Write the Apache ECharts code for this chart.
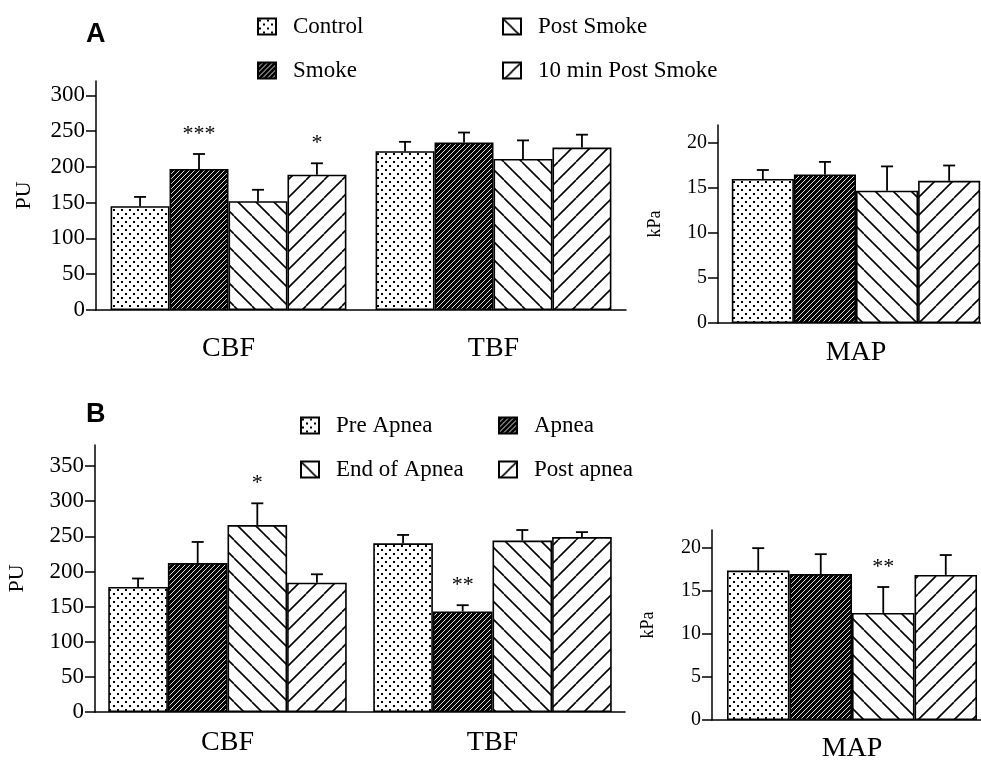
<!DOCTYPE html>
<html>
<head>
<meta charset="utf-8">
<script src="https://cdn.jsdelivr.net/npm/echarts@6/dist/echarts.min.js"></script>
<style>
  html, body { margin: 0; padding: 0; background: #fff; overflow: hidden; }
  #chart { width: 981px; height: 762px; }
</style>
</head>
<body>
<div id="chart"></div>
<script>
// categories
const flowGroups = ['CBF', 'TBF'];
const mapGroups = ['MAP'];
const smokeNames = ['Control', 'Smoke', 'Post Smoke', '10 min Post Smoke'];
const apneaNames = ['Pre Apnea', 'Apnea', 'End of Apnea', 'Post apnea'];

// panel A: flow in PU, one row per condition -> [CBF, TBF]
const smokeFlow = [[145, 222], [197, 234], [152, 211], [189, 227]];
const smokeFlowSem = [[13, 13], [21, 14], [16, 26], [16, 18]];
const smokeFlowSig = [['', ''], ['***', ''], ['', ''], ['*', '']];
// panel A: MAP in kPa
const smokeMap = [16.0, 16.5, 14.7, 15.8];
const smokeMapSem = [1.0, 1.4, 2.7, 1.7];
const smokeMapSig = ['', '', '', ''];

// panel B
const apneaFlow = [[178, 240], [212, 143], [266, 244], [184, 249]];
const apneaFlowSem = [[12, 12], [30, 9], [31, 15], [12, 7]];
const apneaFlowSig = [['', ''], ['', '**'], ['*', ''], ['', '']];
const apneaMap = [17.3, 16.9, 12.4, 16.8];
const apneaMapSem = [2.6, 2.3, 3.0, 2.3];
const apneaMapSig = ['', '', '**', ''];

// tick labels
const flowTicksA = [0, 50, 100, 150, 200, 250, 300];
const flowTicksB = [0, 50, 100, 150, 200, 250, 300, 350];
const mapTicks = [0, 5, 10, 15, 20];

const serif = '"Liberation Serif", "Times New Roman", serif';

// fill patterns for the four conditions
function dots() {
    const c = document.createElement('canvas');
    c.width = 8; c.height = 8;
    const g = c.getContext('2d');
    g.fillStyle = '#fff'; g.fillRect(0, 0, 8, 8);
    g.fillStyle = '#000';
    g.fillRect(1, 1, 2, 2);
    g.fillRect(5, 5, 2, 2);
    return {image: c, repeat: 'repeat'};
}
function darkStripes() {
    const c = document.createElement('canvas');
    c.width = 5; c.height = 5;
    const g = c.getContext('2d');
    g.fillStyle = '#000'; g.fillRect(0, 0, 5, 5);
    g.fillStyle = '#ddd';
    for (let i = 0; i < 5; i++) g.fillRect(i, 4 - i, 1, 1);
    return {image: c, repeat: 'repeat'};
}
function hatch(back) {
    const p = 18;
    const c = document.createElement('canvas');
    c.width = p; c.height = p;
    const g = c.getContext('2d');
    g.fillStyle = '#fff'; g.fillRect(0, 0, p, p);
    g.strokeStyle = '#000'; g.lineWidth = 1.6;
    for (let k = -1; k <= 1; k++) {
        g.beginPath();
        if (back) { g.moveTo(k * p, 0); g.lineTo(k * p + p, p); }
        else { g.moveTo(k * p, p); g.lineTo(k * p + p, 0); }
        g.stroke();
    }
    return {image: c, repeat: 'repeat'};
}
const fills = [dots(), darkStripes(), hatch(true), hatch(false)];

function panelSeries(gi, names, means, sems, sigs, gap) {
    let list = [];
    names.forEach(function (n, k) {
        list.push({
            name: n,
            type: 'bar',
            xAxisIndex: gi,
            yAxisIndex: gi,
            barGap: '0%',
            barCategoryGap: (gap * 100) + '%',
            itemStyle: {color: fills[k], borderColor: '#000', borderWidth: 1.6},
            data: means[k]
        });
    });
    // error bars + significance stars
    let items = [], stars = [];
    means.forEach(function (row, k) {
        row.forEach(function (m, c) {
            items.push([c, k, m, sems[k][c]]);
            stars.push(sigs[k][c]);
        });
    });
    list.push({
        type: 'custom',
        xAxisIndex: gi,
        yAxisIndex: gi,
        silent: true,
        z: 5,
        encode: {x: 0, y: 2},
        data: items,
        renderItem: function (params, api) {
            const c = api.value(0), k = api.value(1), m = api.value(2), s = api.value(3);
            const p0 = api.coord([c, m]);
            const p1 = api.coord([c, m + s]);
            const bw = api.size([1, 0])[0] * (1 - gap) / 4;
            const x = p0[0] + (k - 1.5) * bw;
            const line = {stroke: '#000', lineWidth: 1.8};
            let ch = [
                {type: 'line', shape: {x1: x, y1: p0[1], x2: x, y2: p1[1]}, style: line},
                {type: 'line', shape: {x1: x - 6, y1: p1[1], x2: x + 6, y2: p1[1]}, style: line}
            ];
            const st = stars[params.dataIndex];
            if (st) {
                ch.push({type: 'text', style: {text: st, x: x, y: p1[1] - 20, align: 'center',
                    verticalAlign: 'middle', fontSize: 22, fontFamily: serif, fill: '#000'}});
            }
            return {type: 'group', children: ch};
        }
    });
    return list;
}

function yAx(gi, max, ticks, name, gap, fs) {
    return {
        gridIndex: gi, type: 'value', min: 0, max: max,
        name: name, nameLocation: 'middle', nameGap: gap, nameRotate: 90,
        nameTextStyle: {fontFamily: serif, fontSize: name === 'PU' ? 22 : 18, color: '#000'},
        axisLine: {show: true, lineStyle: {color: '#000', width: 1.5}},
        axisTick: {show: true, length: 10, customValues: ticks, lineStyle: {color: '#000', width: 1.5}},
        axisLabel: {customValues: ticks, fontFamily: serif, fontSize: fs, color: '#000', margin: 11},
        splitLine: {show: false}
    };
}
function xAx(gi, cats, margin) {
    return {
        gridIndex: gi, type: 'category', data: cats,
        axisLine: {lineStyle: {color: '#000', width: 1.5}},
        axisTick: {show: false},
        axisLabel: {fontFamily: serif, fontSize: 28, color: '#000', margin: margin}
    };
}
function legendBlock(names, left, top) {
    return {
        data: names, orient: 'vertical', left: left, top: top,
        icon: 'rect', itemWidth: 18, itemHeight: 16, itemGap: 21,
        selectedMode: false,
        textStyle: {fontFamily: serif, fontSize: 23, color: '#000', padding: [0, 0, 0, 12]}
    };
}

const chart = echarts.init(document.getElementById('chart'));
const option = {
    backgroundColor: '#fff',
    animation: false,
    title: [
        {text: 'A', left: 81, top: 16, textStyle: {fontFamily: '"Liberation Sans", Arial', fontWeight: 'bold', fontSize: 27, color: '#000'}},
        {text: 'B', left: 81, top: 396, textStyle: {fontFamily: '"Liberation Sans", Arial', fontWeight: 'bold', fontSize: 27, color: '#000'}}
    ],
    legend: [
        legendBlock(smokeNames.slice(0, 2), 252, 10),
        legendBlock(smokeNames.slice(2), 497, 10),
        legendBlock([apneaNames[0], apneaNames[2]], 295, 409),
        legendBlock([apneaNames[1], apneaNames[3]], 493, 409)
    ],
    grid: [
        {left: 96, top: 81, width: 530, height: 229, outerBoundsMode: 'none'},
        {left: 718, top: 125, width: 276, height: 198, outerBoundsMode: 'none'},
        {left: 95, top: 445, width: 530, height: 267, outerBoundsMode: 'none'},
        {left: 712, top: 530, width: 280, height: 190, outerBoundsMode: 'none'}
    ],
    xAxis: [
        xAx(0, flowGroups, 25),
        xAx(1, mapGroups, 16),
        xAx(2, flowGroups, 17),
        xAx(3, mapGroups, 15)
    ],
    yAxis: [
        yAx(0, 320, flowTicksA, 'PU', 61, 23),
        yAx(1, 22, mapTicks, 'kPa', 54, 20),
        yAx(2, 380, flowTicksB, 'PU', 67, 23),
        yAx(3, 22, mapTicks, 'kPa', 55, 20)
    ],
    series: [].concat(
        panelSeries(0, smokeNames, smokeFlow, smokeFlowSem, smokeFlowSig, 0.11),
        panelSeries(1, smokeNames, smokeMap.map(v => [v]), smokeMapSem.map(v => [v]), smokeMapSig.map(v => [v]), 0.10),
        panelSeries(2, apneaNames, apneaFlow, apneaFlowSem, apneaFlowSig, 0.10),
        panelSeries(3, apneaNames, apneaMap.map(v => [v]), apneaMapSem.map(v => [v]), apneaMapSig.map(v => [v]), 0.107)
    )
};
chart.setOption(option);
</script>
</body>
</html>
